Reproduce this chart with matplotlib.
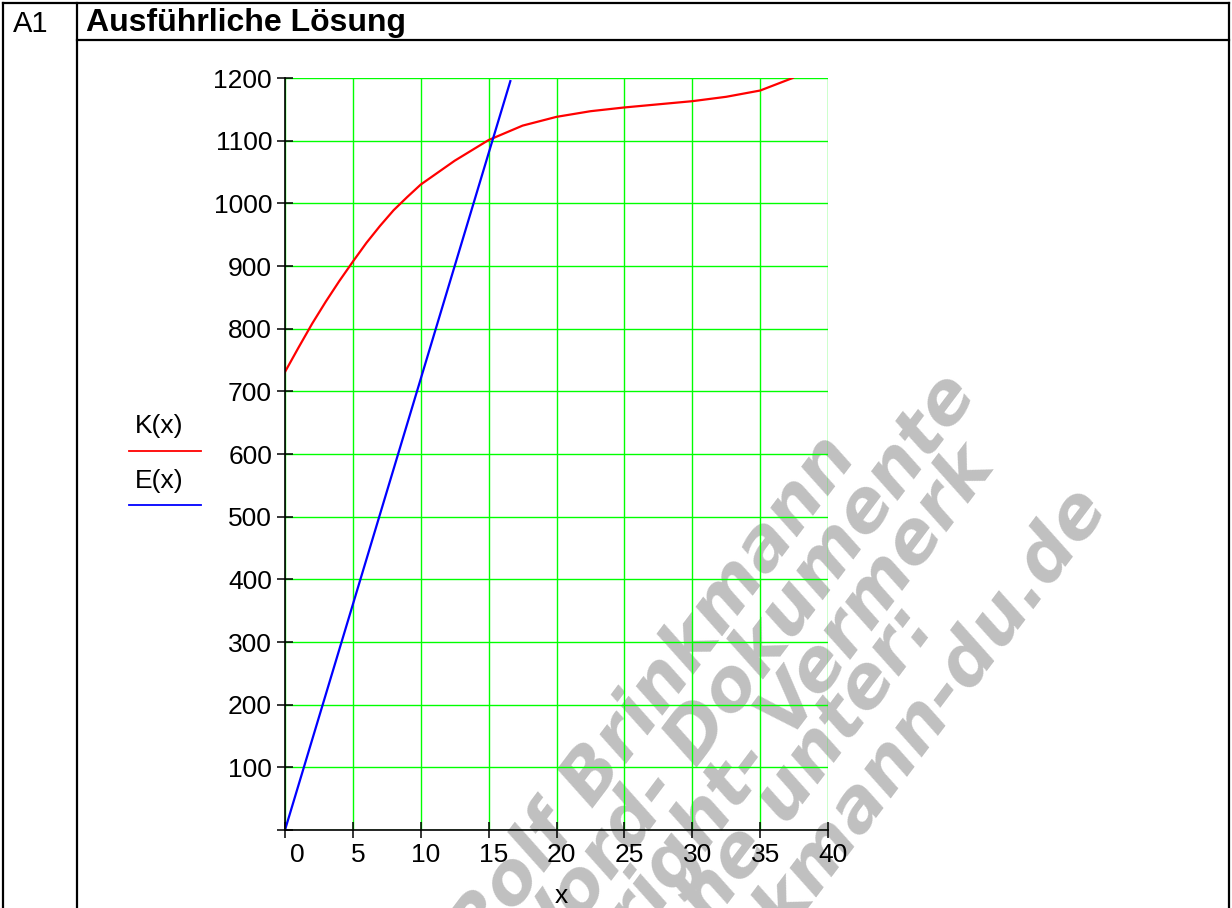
import matplotlib
matplotlib.use("Agg")
import matplotlib.pyplot as plt
from matplotlib.lines import Line2D
from matplotlib.transforms import offset_copy

# Werte
x_K = [0, 1, 2, 3, 4, 5, 6, 7, 8, 9, 10, 12.5, 15, 17.5, 20, 22.5, 25, 27.5, 30, 32.5, 35, 37.4]
K = [731, 770, 808, 843, 876, 907, 937, 964, 989, 1010, 1030, 1068, 1101, 1124, 1138, 1147,
     1153, 1158, 1163, 1170, 1180, 1200]
x_E = [0, 5, 10, 15, 16.6]
E = [0, 360, 720, 1080, 1195]

x_ticks = [0, 5, 10, 15, 20, 25, 30, 35, 40]
y_ticks = [0, 100, 200, 300, 400, 500, 600, 700, 800, 900, 1000, 1100, 1200]

wasserzeichen = ["Rolf Brinkmann", "Word- Dokumente", "Copyright- Vermerk",
                 "siehe unter:", "www.brinkmann-du.de"]
wz_enden = [(858, 457), (978, 395), (996, 467), (937, 627), (1107, 503)]

W, H = 1232, 908
plt.rcParams['font.family'] = ['Liberation Sans', 'DejaVu Sans']

def px(x, y):
    return x / W, 1 - y / H

fig = plt.figure(figsize=(W / 100, H / 100), dpi=100)

# Wasserzeichen (unter dem Diagramm)
for txt, (ex, ey) in zip(wasserzeichen, wz_enden):
    fx, fy = px(ex, ey)
    fig.text(fx, fy, txt, ha='right', va='baseline', rotation=53, rotation_mode='anchor',
             color='#c0c0c0', fontsize=52, fontweight='bold', fontstyle='italic',
             family='DejaVu Sans', zorder=-5)

# Tabellenrahmen
rahmen = [((3, 3), (3, H)), ((3, 1229), (3, 3)), ((1229, 1229), (3, H)),
          ((77, 77), (3, H)), ((77, 1229), (40, 40))]
for xs, ys in rahmen:
    fig.add_artist(Line2D([x / W for x in xs], [1 - y / H for y in ys], color='black', lw=1.6))

fig.text(*px(13, 31.5), "A1", fontsize=21, va='baseline', ha='left')
fig.text(*px(86, 31.5), "Ausführliche Lösung", fontsize=23, fontweight='bold', va='baseline', ha='left')

# Diagramm
l, r, t, b = 285, 828, 78, 830
ax = fig.add_axes([l / W, 1 - b / H, (r - l) / W, (b - t) / H])
ax.set_facecolor('none')
ax.plot(x_K, K, color='#ff0000', lw=1.6, zorder=3)
ax.plot(x_E, E, color='#0000ff', lw=1.6, zorder=3)
ax.set_xlim(0, 40)
ax.set_ylim(0, 1200)
ax.set_xticks(x_ticks)
ax.set_yticks(y_ticks)
ax.set_yticklabels([''] + [str(v) for v in y_ticks[1:]])
ax.grid(True, color='#00ff00', lw=1.0)
for s in ['top', 'right']:
    ax.spines[s].set_visible(False)
for s in ['left', 'bottom']:
    ax.spines[s].set_linewidth(1.2)
    ax.spines[s].set_zorder(4)
ax.tick_params(direction='inout', length=11.5, width=1.1, labelsize=19, pad=3.6)
ax.tick_params(axis='x', labelbottom=False)

for v in x_ticks:
    dx = 12 if v == 0 else 5
    tr = offset_copy(ax.get_xaxis_transform(), fig=fig, x=dx, y=-13, units='dots')
    ax.text(v, 0, str(v), transform=tr, ha='center', va='top', fontsize=19)

fig.text(*px(561, 903), "x", fontsize=19, ha='center', va='baseline')

# Legende links
fig.text(*px(135, 433), "K(x)", fontsize=19, ha='left', va='baseline')
fig.add_artist(Line2D([129 / W, 201 / W], [1 - 451 / H] * 2, color='#ff0000', lw=1.3))
fig.text(*px(135, 488), "E(x)", fontsize=19, ha='left', va='baseline')
fig.add_artist(Line2D([129 / W, 201 / W], [1 - 505 / H] * 2, color='#0000ff', lw=1.3))

fig.savefig("out.png", dpi=100)
